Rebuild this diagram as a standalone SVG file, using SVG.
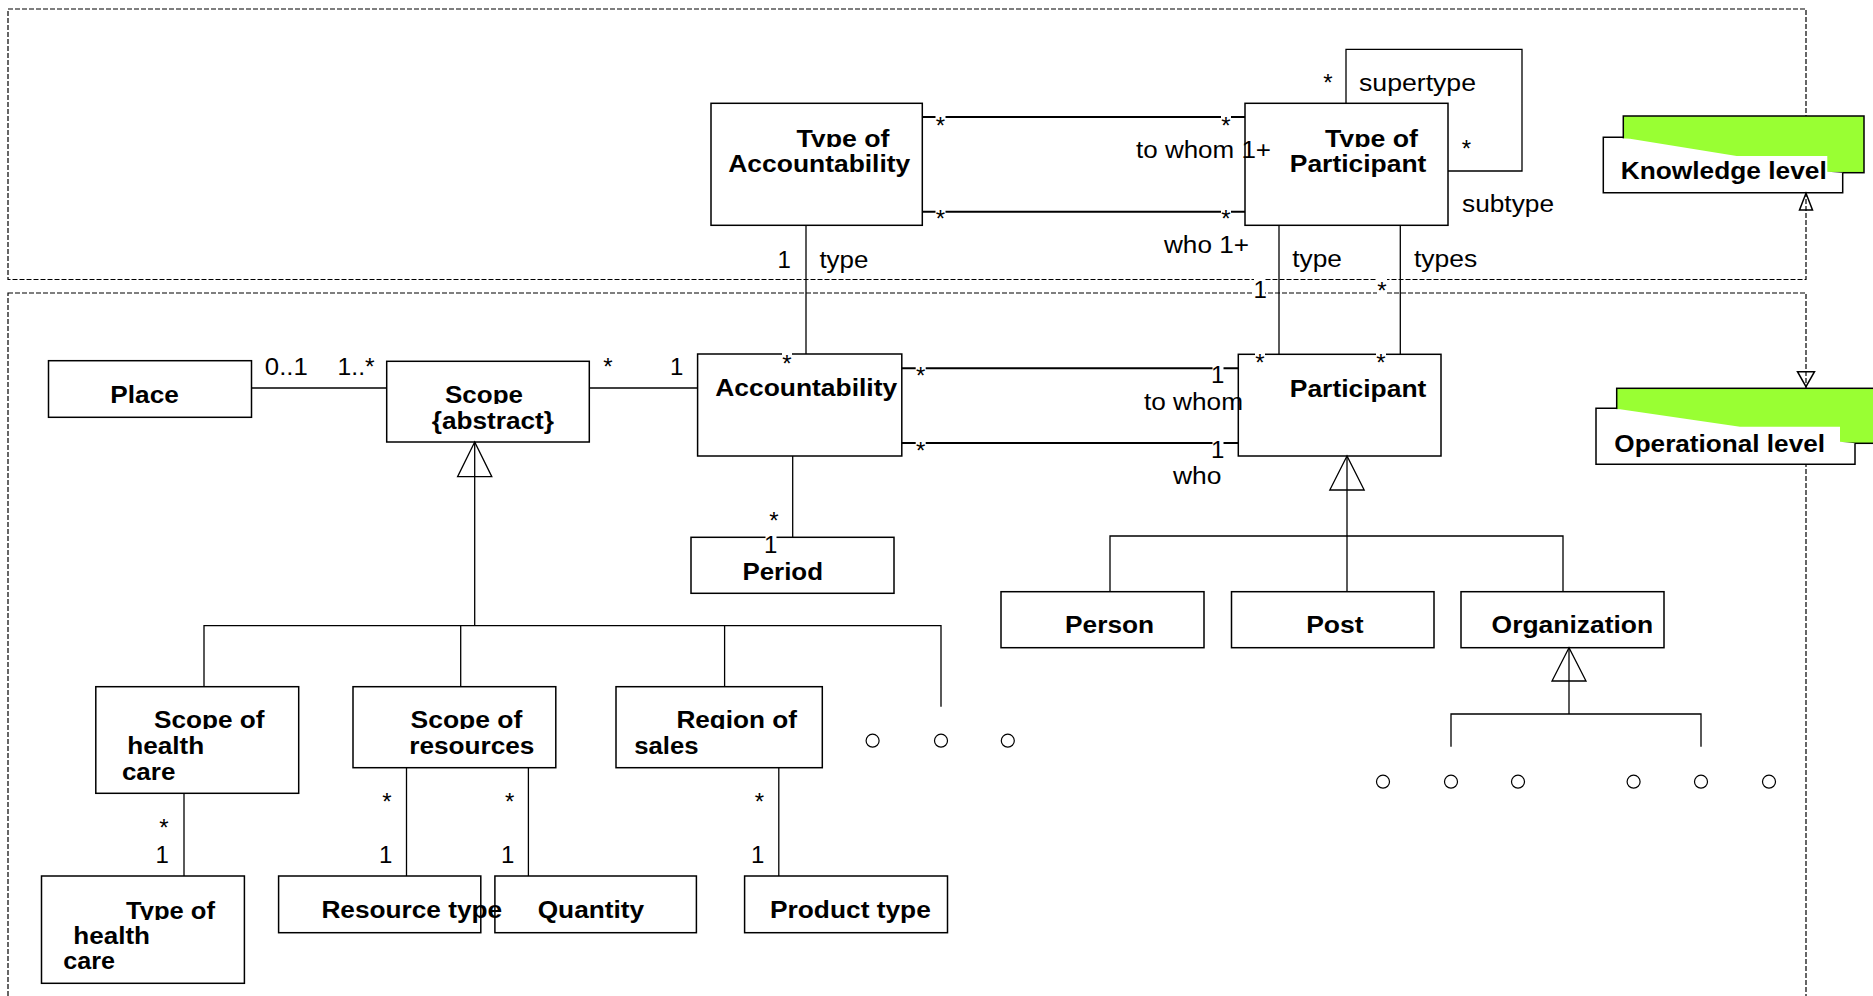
<svg xmlns="http://www.w3.org/2000/svg" width="1873" height="996" viewBox="0 0 1873 996">
<style>
.box{fill:#fff;stroke:#000;stroke-width:1.5}
.ln{fill:none;stroke:#000;stroke-width:1.3}
.lnb{fill:none;stroke:#000;stroke-width:2}
.dash{fill:none;stroke:#000;stroke-width:1.2;stroke-dasharray:5 2}
.cls{font-family:"Liberation Sans",Arial,sans-serif;font-weight:bold;font-size:23px;fill:#000}
.lbl{font-family:"Liberation Sans",Arial,sans-serif;font-size:23px;fill:#000}
.m{font-family:"Liberation Sans",Arial,sans-serif;font-size:24px;fill:#000}
.st{text-anchor:middle}
.bg{fill:#fff}
.gen{fill:#fff;stroke:#000;stroke-width:1.3}
.dot{fill:#fff;stroke:#000;stroke-width:1.2}
.grn{fill:#99ff33;stroke:#000;stroke-width:1.5}
.wh{fill:#fff;stroke:none}
.ol{fill:none;stroke:#000;stroke-width:1.5}
</style>
<defs>
<clipPath id="k1"><rect x="0" y="0" width="1873" height="147"/></clipPath>
<clipPath id="k2"><rect x="0" y="0" width="1873" height="404"/></clipPath>
<clipPath id="k3"><rect x="0" y="0" width="1873" height="729"/></clipPath>
<clipPath id="k4"><rect x="0" y="0" width="1873" height="920"/></clipPath>
</defs>
<rect width="1873" height="996" fill="#fff"/>
<g id="levels">
<rect class="dash" x="8" y="9" width="1798" height="270.5"/>
<rect class="dash" x="8" y="293" width="1798" height="720"/>
</g>
<g id="knowledge-level">
<rect class="grn" x="1623.3" y="116" width="240.7" height="56.7"/>
<polygon class="wh" points="1603.3,137.3 1630,138.7 1736.7,156 1827.3,156 1827.3,171.7 1842.7,172.7 1842.7,192.7 1603.3,192.7"/>
<polyline class="ol" points="1623.3,137.3 1603.3,137.3 1603.3,192.7 1842.7,192.7 1842.7,172.7"/>
<text class="cls" x="1620.7" y="179" textLength="206" lengthAdjust="spacingAndGlyphs">Knowledge level</text>
</g>
<g id="operational-level">
<rect class="grn" x="1616.7" y="388.3" width="270" height="55"/>
<polygon class="wh" points="1596,408.3 1620,409.3 1740,426.7 1840,426.7 1840,441.7 1855,443.3 1855,464.3 1596,464.3"/>
<polyline class="ol" points="1616.7,408.3 1596,408.3 1596,464.3 1855,464.3 1855,443.3"/>
<text class="cls" x="1614.3" y="451.7" textLength="210.7" lengthAdjust="spacingAndGlyphs">Operational level</text>
</g>
<g id="type-of-accountability">
<rect class="box" x="711" y="103.3" width="211.3" height="122"/>
<text class="cls" x="796.5" y="146.5" textLength="93" lengthAdjust="spacingAndGlyphs" clip-path="url(#k1)">Type of</text>
<text class="cls" x="728.3" y="171.7" textLength="182" lengthAdjust="spacingAndGlyphs">Accountability</text>
</g>
<g id="type-of-participant">
<rect class="box" x="1245" y="103.3" width="203" height="122"/>
<text class="cls" x="1325" y="146.5" textLength="93" lengthAdjust="spacingAndGlyphs" clip-path="url(#k1)">Type of</text>
<text class="cls" x="1289.8" y="171.7" textLength="136.6" lengthAdjust="spacingAndGlyphs">Participant</text>
</g>
<g id="place">
<rect class="box" x="48.5" y="360.7" width="203" height="56.6"/>
<text class="cls" x="110.3" y="403.3" textLength="68.5" lengthAdjust="spacingAndGlyphs">Place</text>
</g>
<g id="scope">
<rect class="box" x="386.7" y="361.3" width="202.6" height="80.7"/>
<text class="cls" x="445" y="403.3" textLength="78" lengthAdjust="spacingAndGlyphs" clip-path="url(#k2)">Scope</text>
<text class="cls" x="431.7" y="429.3" textLength="122.3" lengthAdjust="spacingAndGlyphs">{abstract}</text>
</g>
<g id="accountability">
<rect class="box" x="697.6" y="354" width="204.2" height="102"/>
<text class="cls" x="715.2" y="396" textLength="182" lengthAdjust="spacingAndGlyphs">Accountability</text>
</g>
<g id="participant">
<rect class="box" x="1238.3" y="354.3" width="202.7" height="101.7"/>
<text class="cls" x="1289.8" y="396.7" textLength="136.6" lengthAdjust="spacingAndGlyphs">Participant</text>
</g>
<g id="period">
<rect class="box" x="691" y="537.3" width="203" height="56"/>
<text class="cls" x="742.4" y="580" textLength="80.6" lengthAdjust="spacingAndGlyphs">Period</text>
</g>
<g id="person">
<rect class="box" x="1001" y="591.7" width="203" height="56"/>
<text class="cls" x="1065.1" y="633.3" textLength="89" lengthAdjust="spacingAndGlyphs">Person</text>
</g>
<g id="post">
<rect class="box" x="1231.5" y="591.7" width="202.5" height="56"/>
<text class="cls" x="1306.2" y="633.3" textLength="57.4" lengthAdjust="spacingAndGlyphs">Post</text>
</g>
<g id="organization">
<rect class="box" x="1461" y="591.7" width="203" height="56"/>
<text class="cls" x="1491.6" y="633.3" textLength="161.5" lengthAdjust="spacingAndGlyphs">Organization</text>
</g>
<g id="scope-of-health-care">
<rect class="box" x="95.8" y="686.7" width="202.9" height="106.6"/>
<text class="cls" x="154" y="728.3" textLength="110.5" lengthAdjust="spacingAndGlyphs" clip-path="url(#k3)">Scope of</text>
<text class="cls" x="127.2" y="754" textLength="77" lengthAdjust="spacingAndGlyphs">health</text>
<text class="cls" x="121.9" y="780" textLength="53.5" lengthAdjust="spacingAndGlyphs">care</text>
</g>
<g id="scope-of-resources">
<rect class="box" x="353" y="686.7" width="202.8" height="81"/>
<text class="cls" x="410.5" y="728.3" textLength="111.8" lengthAdjust="spacingAndGlyphs" clip-path="url(#k3)">Scope of</text>
<text class="cls" x="409.2" y="754" textLength="125.2" lengthAdjust="spacingAndGlyphs">resources</text>
</g>
<g id="region-of-sales">
<rect class="box" x="616" y="686.7" width="206.3" height="81"/>
<text class="cls" x="676.4" y="728.3" textLength="120.5" lengthAdjust="spacingAndGlyphs" clip-path="url(#k3)">Region of</text>
<text class="cls" x="634.2" y="754" textLength="64.3" lengthAdjust="spacingAndGlyphs">sales</text>
</g>
<g id="type-of-health-care">
<rect class="box" x="41.5" y="876" width="202.9" height="107.3"/>
<text class="cls" x="126" y="919.3" textLength="89" lengthAdjust="spacingAndGlyphs" clip-path="url(#k4)">Type of</text>
<text class="cls" x="73.3" y="944" textLength="76.7" lengthAdjust="spacingAndGlyphs">health</text>
<text class="cls" x="63.3" y="969" textLength="51.7" lengthAdjust="spacingAndGlyphs">care</text>
</g>
<g id="quantity">
<rect class="box" x="494.9" y="876" width="201.5" height="56.7"/>
<text class="cls" x="537.7" y="918.3" textLength="106.5" lengthAdjust="spacingAndGlyphs">Quantity</text>
</g>
<g id="resource-type">
<rect class="box" x="278.6" y="876" width="202.2" height="56.7"/>
<text class="cls" x="321.4" y="918.3" textLength="180.8" lengthAdjust="spacingAndGlyphs">Resource type</text>
</g>
<g id="product-type">
<rect class="box" x="744.6" y="876" width="202.9" height="56.7"/>
<text class="cls" x="770" y="918.3" textLength="160.8" lengthAdjust="spacingAndGlyphs">Product type</text>
</g>
<g id="connectors">
<line class="lnb" x1="922.3" y1="117" x2="1245" y2="117"/>
<line class="lnb" x1="922.3" y1="211.7" x2="1245" y2="211.7"/>
<polyline class="ln" points="1346,103.3 1346,49.3 1522,49.3 1522,171 1448,171"/>
<line class="ln" x1="806" y1="225.3" x2="806" y2="354"/>
<line class="ln" x1="1279" y1="225.3" x2="1279" y2="354.3"/>
<line class="ln" x1="1400.3" y1="225.3" x2="1400.3" y2="354.3"/>
<line class="ln" x1="251.5" y1="388" x2="386.7" y2="388"/>
<line class="ln" x1="589.3" y1="388" x2="697.6" y2="388"/>
<line class="lnb" x1="901.8" y1="368.3" x2="1238.3" y2="368.3"/>
<line class="lnb" x1="901.8" y1="443" x2="1238.3" y2="443"/>
<line class="ln" x1="792.7" y1="456" x2="792.7" y2="537.3"/>
<line class="ln" x1="184" y1="793.3" x2="184" y2="876"/>
<line class="ln" x1="406.5" y1="767.7" x2="406.5" y2="876"/>
<line class="ln" x1="528.4" y1="767.7" x2="528.4" y2="876"/>
<line class="ln" x1="778.8" y1="767.7" x2="778.8" y2="876"/>
<line class="ln" x1="474.7" y1="442" x2="474.7" y2="625.7"/>
<polyline class="ln" points="204,686.7 204,625.7 941,625.7 941,706.7"/>
<line class="ln" x1="460.7" y1="625.7" x2="460.7" y2="686.7"/>
<line class="ln" x1="724.6" y1="625.7" x2="724.6" y2="686.7"/>
<polygon class="gen" points="474.7,442 457.6,476.7 491.8,476.7"/>
<line class="ln" x1="474.7" y1="442" x2="474.7" y2="476.7"/>
<line class="ln" x1="1347" y1="456" x2="1347" y2="591.7"/>
<polyline class="ln" points="1110,591.7 1110,536 1563,536 1563,591.7"/>
<polygon class="gen" points="1347,456 1329.8,490 1364.2,490"/>
<line class="ln" x1="1347" y1="456" x2="1347" y2="490"/>
<line class="ln" x1="1569" y1="647.7" x2="1569" y2="714"/>
<polyline class="ln" points="1451,746.7 1451,714 1701,714 1701,746.7"/>
<polygon class="gen" points="1569,647.7 1552,681 1586,681"/>
<line class="ln" x1="1569" y1="647.7" x2="1569" y2="681"/>
<polygon class="ol" points="1806,193.3 1799.5,210 1812.5,210"/>
<polygon class="ol" points="1797.5,371.7 1814.5,371.7 1806,386.7"/>
<circle class="dot" cx="872.6" cy="740.7" r="6.5"/>
<circle class="dot" cx="941" cy="740.7" r="6.5"/>
<circle class="dot" cx="1007.8" cy="740.7" r="6.5"/>
<circle class="dot" cx="1383" cy="781.7" r="6.5"/>
<circle class="dot" cx="1451" cy="781.7" r="6.5"/>
<circle class="dot" cx="1518" cy="781.7" r="6.5"/>
<circle class="dot" cx="1633.6" cy="781.7" r="6.5"/>
<circle class="dot" cx="1701" cy="781.7" r="6.5"/>
<circle class="dot" cx="1769" cy="781.7" r="6.5"/>
</g>
<g id="labels">
<rect class="bg" x="935.5" y="114" width="10" height="12"/>
<text class="m st" x="940.5" y="134.3">*</text>
<rect class="bg" x="1221" y="114" width="10" height="12"/>
<text class="m st" x="1226" y="134.3">*</text>
<rect class="bg" x="935.5" y="207" width="10" height="12"/>
<text class="m st" x="940.5" y="227">*</text>
<rect class="bg" x="1221" y="207" width="10" height="12"/>
<text class="m st" x="1226" y="227">*</text>
<text class="lbl" x="1136" y="158.3" textLength="135" lengthAdjust="spacingAndGlyphs">to whom 1+</text>
<text class="lbl" x="1164" y="253.3" textLength="85" lengthAdjust="spacingAndGlyphs">who 1+</text>
<text class="m st" x="1328" y="91">*</text>
<text class="lbl" x="1359" y="90.5" textLength="117" lengthAdjust="spacingAndGlyphs">supertype</text>
<text class="m st" x="1466.5" y="157">*</text>
<text class="lbl" x="1462" y="211.7" textLength="92" lengthAdjust="spacingAndGlyphs">subtype</text>
<text class="m" x="777.5" y="268.3">1</text>
<text class="lbl" x="819.4" y="268" textLength="49" lengthAdjust="spacingAndGlyphs">type</text>
<text class="lbl" x="1292.3" y="266.7" textLength="49.7" lengthAdjust="spacingAndGlyphs">type</text>
<text class="lbl" x="1414" y="266.7" textLength="63.3" lengthAdjust="spacingAndGlyphs">types</text>
<rect class="bg" x="1254" y="278" width="11" height="20"/>
<text class="m" x="1253.5" y="298">1</text>
<rect class="bg" x="1377" y="277" width="10" height="18"/>
<text class="m st" x="1382" y="298.6">*</text>
<text class="lbl" x="264.8" y="375" textLength="43" lengthAdjust="spacingAndGlyphs">0..1</text>
<text class="lbl" x="337.6" y="375" textLength="37" lengthAdjust="spacingAndGlyphs">1..*</text>
<text class="m st" x="608" y="374.6">*</text>
<text class="m" x="670" y="375">1</text>
<rect class="bg" x="782" y="352" width="10" height="12"/>
<text class="m st" x="787" y="371.6">*</text>
<rect class="bg" x="915.7" y="364" width="10" height="12"/>
<text class="m st" x="920.7" y="384.3">*</text>
<rect class="bg" x="915.7" y="439" width="10" height="12"/>
<text class="m st" x="920.7" y="459.3">*</text>
<rect class="bg" x="1212.5" y="365" width="11" height="19"/>
<text class="m" x="1211" y="383.3">1</text>
<rect class="bg" x="1212.5" y="440" width="11" height="19"/>
<text class="m" x="1211" y="458.3">1</text>
<text class="lbl" x="1144" y="410" textLength="99" lengthAdjust="spacingAndGlyphs">to whom</text>
<text class="lbl" x="1173" y="484" textLength="48.5" lengthAdjust="spacingAndGlyphs">who</text>
<rect class="bg" x="1255" y="351" width="10" height="12"/>
<text class="m st" x="1260" y="370.6">*</text>
<rect class="bg" x="1376" y="351" width="10" height="12"/>
<text class="m st" x="1381" y="370.6">*</text>
<text class="m st" x="774" y="528.6">*</text>
<rect class="bg" x="765.5" y="535" width="11" height="19"/>
<text class="m" x="764" y="553">1</text>
<text class="m st" x="164" y="836.3">*</text>
<text class="m" x="155.5" y="863.3">1</text>
<text class="m st" x="387" y="810.3">*</text>
<text class="m" x="379" y="863.3">1</text>
<text class="m st" x="509.6" y="810.3">*</text>
<text class="m" x="501" y="863.3">1</text>
<text class="m st" x="759.4" y="810.3">*</text>
<text class="m" x="751" y="863.3">1</text>
</g>
</svg>
